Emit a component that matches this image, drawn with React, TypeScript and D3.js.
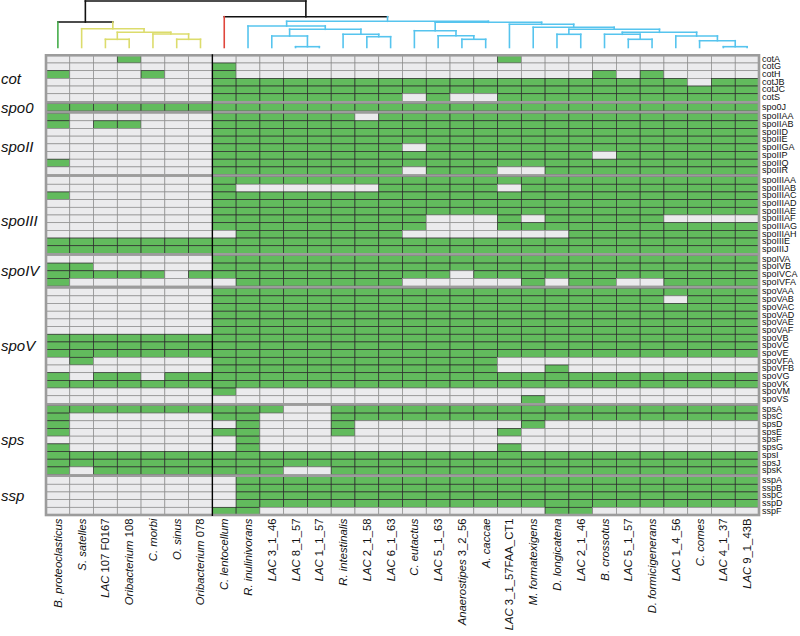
import React from 'react';
import * as d3 from 'd3';

// ---------------- DATA ----------------
const speciesNames = [
  'B. proteoclasticus', 'S. satelles', 'LAC', 'Oribacterium', 'C. morbi', 'O. sinus', 'Oribacterium',
  'C. lentocellum', 'R. inulinivorans', 'LAC', 'LAC', 'LAC', 'R. intestinalis', 'LAC', 'LAC',
  'C. eutactus', 'LAC', 'Anaerostipes', 'A. caccae', 'LAC', 'M. formatexigens', 'D. longicatena',
  'LAC', 'B. crossotus', 'LAC', 'D. formicigenerans', 'LAC', 'C. comes', 'LAC', 'LAC',
];
const speciesStrains = [
  '', '', '107 F0167', '108', '', '', '078',
  '', '', '3_1_46', '8_1_57', '1_1_57', '', '2_1_58', '6_1_63',
  '', '5_1_63', '3_2_56', '', '3_1_57FAA_CT1', '', '',
  '2_1_46', '', '5_1_57', '', '1_4_56', '', '4_1_37', '9_1_43B',
];

const geneGroups = ['cot', 'spo0', 'spoII', 'spoIII', 'spoIV', 'spoV', 'sps', 'ssp'];
const groupSizes = [6, 1, 8, 10, 4, 15, 9, 5];

const genes = [
  'cotA', 'cotG', 'cotH', 'cotJB', 'cotJC', 'cotS',
  'spo0J',
  'spoIIAA', 'spoIIAB', 'spoIID', 'spoIIE', 'spoIIGA', 'spoIIP', 'spoIIQ', 'spoIIR',
  'spoIIIAA', 'spoIIIAB', 'spoIIIAC', 'spoIIIAD', 'spoIIIAE', 'spoIIIAF', 'spoIIIAG', 'spoIIIAH', 'spoIIIE', 'spoIIIJ',
  'spoIVA', 'spoIVB', 'spoIVCA', 'spoIVFA',
  'spoVAA', 'spoVAB', 'spoVAC', 'spoVAD', 'spoVAE', 'spoVAF', 'spoVB', 'spoVC', 'spoVE', 'spoVFA', 'spoVFB', 'spoVG', 'spoVK', 'spoVM', 'spoVS',
  'spsA', 'spsC', 'spsD', 'spsE', 'spsF', 'spsG', 'spsI', 'spsJ', 'spsK',
  'sspA', 'sspB', 'sspC', 'sspD', 'sspF',
];

// presence (1) / absence (0) per gene, one character per species column
const presence = [
  '0001000' + '00000000' + '000010000000000', // cotA
  '0000000' + '10000000' + '000000000000000', // cotG
  '1000100' + '10000000' + '000000001010000', // cotH
  '0000000' + '11111111' + '111111111111011', // cotJB
  '0000000' + '11111111' + '111111111111111', // cotJC
  '0000000' + '11111111' + '010011111111111', // cotS
  '1111111' + '11111111' + '111111111111111', // spo0J
  '1000000' + '11111101' + '111111111111111', // spoIIAA
  '1011000' + '11111111' + '111111111111111', // spoIIAB
  '0000000' + '11111111' + '111111111111111', // spoIID
  '0000000' + '11111111' + '111111111111111', // spoIIE
  '0000000' + '11111111' + '011111111111111', // spoIIGA
  '0000000' + '11111111' + '111111110111111', // spoIIP
  '1000000' + '11111111' + '111111111111111', // spoIIQ
  '0000000' + '11111111' + '011100111111111', // spoIIR
  '0000000' + '11111111' + '111111111111111', // spoIIIAA
  '0000000' + '10000001' + '111101111111111', // spoIIIAB
  '1000000' + '11111111' + '111111111111111', // spoIIIAC
  '0000000' + '11111111' + '111111111111111', // spoIIIAD
  '0000000' + '11111111' + '111111111111111', // spoIIIAE
  '0000000' + '11111111' + '100010111110000', // spoIIIAF
  '0000000' + '11111111' + '100011111111111', // spoIIIAG
  '0000000' + '01111111' + '000000011111111', // spoIIIAH
  '1111111' + '11111111' + '111111111111111', // spoIIIE
  '1111111' + '11111111' + '111111111111111', // spoIIIJ
  '0000000' + '11111111' + '111111111111111', // spoIVA
  '1100000' + '11111111' + '111111111111111', // spoIVB
  '1111101' + '11111111' + '110111111111111', // spoIVCA
  '1000000' + '01111111' + '000001011001111', // spoIVFA
  '0000000' + '11111111' + '111111111111111', // spoVAA
  '0000000' + '11111111' + '111111111110111', // spoVAB
  '0000000' + '11111111' + '111111111111111', // spoVAC
  '0000000' + '11111111' + '111111111111111', // spoVAD
  '0000000' + '11111111' + '111111111111111', // spoVAE
  '0000000' + '11111111' + '111111111111111', // spoVAF
  '1111111' + '11111111' + '111111111111111', // spoVB
  '1111111' + '11111111' + '111111111111111', // spoVC
  '1111111' + '11111111' + '111111111111111', // spoVE
  '0100000' + '11111111' + '111100000000000', // spoVFA
  '0000000' + '11111111' + '111100100000000', // spoVFB
  '1011011' + '11111111' + '111111111111111', // spoVG
  '1111111' + '11111111' + '111111111111111', // spoVK
  '0000000' + '10000000' + '000000000000000', // spoVM
  '0000000' + '00000000' + '000001000000000', // spoVS
  '1111111' + '11100111' + '111111111111111', // spsA
  '1000000' + '11000111' + '111111111111111', // spsC
  '1000000' + '01000100' + '000001000000000', // spsD
  '1000000' + '11000100' + '000010000000000', // spsE
  '0000000' + '01000000' + '000000000000000', // spsF
  '1000000' + '01000000' + '000010000000000', // spsG
  '1111111' + '11111111' + '111111111111111', // spsI
  '1111111' + '11111111' + '111111111111111', // spsJ
  '1011111' + '11100111' + '111111111111111', // spsK
  '0000000' + '01111111' + '111111111111111', // sspA
  '0000000' + '01111111' + '111111111111111', // sspB
  '0000000' + '01111111' + '111111111111111', // sspC
  '0000000' + '01111111' + '111111111111111', // sspD
  '0000000' + '11000000' + '000000110000000', // sspF
];

type DNode = { h?: number; leaf?: number; color?: string; children?: DNode[] };
// species clustering tree (linkage heights)
const dendrogram: DNode = {
  h: 46.5, color: 'black', children: [
    { h: 25.5, color: 'black', children: [
      { leaf: 0, color: 'green' },
      { h: 18.8, color: 'yellow', children: [
        { leaf: 1 },
        { h: 15.2, children: [
          { h: 8.2, children: [{ leaf: 2 }, { leaf: 3 }] },
          { h: 13.5, children: [{ leaf: 4 }, { h: 8.2, children: [{ leaf: 5 }, { leaf: 6 }] }] },
        ] },
      ] },
    ] },
    { h: 30.8, color: 'black', children: [
      { leaf: 7, color: 'red' },
      { h: 26.2, color: 'cyan', children: [
        { h: 21.5, children: [
          { leaf: 8 },
          { h: 18.2, children: [
            { h: 11.5, children: [{ leaf: 9 }, { h: 0.8, children: [{ leaf: 10 }, { leaf: 11 }] }] },
            { h: 13.2, children: [{ leaf: 12 }, { h: 10.8, children: [{ leaf: 13 }, { leaf: 14 }] }] },
          ] },
        ] },
        { h: 25.2, children: [
          { h: 16.8, children: [{ leaf: 15 }, { h: 11.8, children: [{ leaf: 16 }, { h: 8.2, children: [{ leaf: 17 }, { leaf: 18 }] }] }] },
          { h: 23.2, children: [
            { leaf: 19 },
            { h: 20.2, children: [
              { leaf: 20 },
              { h: 18.2, children: [
                { h: 13.2, children: [{ leaf: 21 }, { leaf: 22 }] },
                { h: 15.2, children: [
                  { h: 13.2, children: [{ leaf: 23 }, { h: 8.2, children: [{ leaf: 24 }, { leaf: 25 }] }] },
                  { h: 11.5, children: [{ leaf: 26 }, { h: 6.8, children: [{ leaf: 27 }, { h: 0.8, children: [{ leaf: 28 }, { leaf: 29 }] }] }] },
                ] },
              ] },
            ] },
          ] },
        ] },
      ] },
    ] },
  ],
};

// ---------------- STYLE / LAYOUT ----------------
const W = 800;
const H = 636;
const gridLeft = 46;
const gridRight = 759;
const gridTop = 55.3;
const gridBottom = 515;
const sepGap = 2;
const FONT = "'Liberation Sans', Arial, sans-serif";
const GREEN = '#62bb5d';
const LIGHT = '#ebebed';
const SEP = '#9c9c9c';
const dendroColors: Record<string, string> = {
  black: '#111111', green: '#45ad4a', yellow: '#dcdc6c', red: '#e0463c', cyan: '#56c4ee',
};
const groupLabelDy: Record<string, number> = { spoII: 2.5, spoIII: 6 };

export default function App() {
  const nCols = speciesNames.length;
  const nRows = genes.length;
  const x = d3.scaleBand<number>().domain(d3.range(nCols)).range([gridLeft, gridRight]).padding(0);
  const colW = x.bandwidth();

  const rowGroup: number[] = [];
  groupSizes.forEach((s, g) => { for (let i = 0; i < s; i++) rowGroup.push(g); });
  const rowH = (gridBottom - gridTop - sepGap * (geneGroups.length - 1)) / nRows;
  const yIdx = d3.scaleLinear().domain([0, nRows]).range([gridTop, gridTop + nRows * rowH]);
  const rowY = (i: number) => yIdx(i) + rowGroup[i] * sepGap;

  const groupStart: number[] = [];
  let acc = 0;
  groupSizes.forEach((s) => { groupStart.push(acc); acc += s; });

  // dendrogram
  const root = d3.hierarchy<DNode>(dendrogram);
  const hY = d3.scaleLinear().domain([0, 46.5]).range([47.5, 1]);
  const xs = new Map<any, number>();
  const cols = new Map<any, string>();
  root.each((n: any) => {
    cols.set(n, n.data.color || (n.parent ? cols.get(n.parent) : 'black'));
  });
  root.eachAfter((n: any) => {
    if (n.data.leaf !== undefined) xs.set(n, (x(n.data.leaf) as number) + colW / 2);
    else xs.set(n, d3.mean(n.children, (c: any) => xs.get(c)) as number);
  });
  const dLines: { x1: number; y1: number; x2: number; y2: number; c: string }[] = [];
  root.each((n: any) => {
    if (!n.children) return;
    const yN = hY(n.data.h);
    const cx = n.children.map((c: any) => xs.get(c));
    dLines.push({ x1: d3.min(cx) as number, x2: d3.max(cx) as number, y1: yN, y2: yN, c: cols.get(n) as string });
    n.children.forEach((c: any) => {
      const yc = hY(c.data.leaf !== undefined ? 0 : c.data.h);
      dLines.push({ x1: xs.get(c) as number, x2: xs.get(c) as number, y1: yN, y2: yc, c: cols.get(c) as string });
    });
  });

  const cells: JSX.Element[] = [];
  presence.forEach((row, i) => {
    for (let j = 0; j < nCols; j++) {
      const on = row[j] === '1';
      cells.push(
        <rect key={`c${i}-${j}`} x={x(j)} y={rowY(i)} width={colW} height={rowH}
          fill={on ? GREEN : LIGHT} stroke={on ? '#2c2c2c' : '#8e8e8e'} strokeWidth={0.7} />
      );
    }
  });

  const splitX = (x(7) as number);

  return (
    <svg width={W} height={H} style={{ position: 'absolute', left: 0, top: 0, background: '#fff' }}
      fontFamily={FONT}>
      {/* dendrogram */}
      <g>
        {dLines.map((l, k) => (
          <line key={k} x1={l.x1} x2={l.x2} y1={l.y1} y2={l.y2}
            stroke={dendroColors[l.c]} strokeWidth={1.6} strokeLinecap="square" />
        ))}
      </g>
      {/* heatmap cells */}
      <g>{cells}</g>
      {/* group separators */}
      {groupStart.slice(1).map((s, k) => (
        <line key={`s${k}`} x1={gridLeft} x2={gridRight} y1={rowY(s) - sepGap / 2} y2={rowY(s) - sepGap / 2}
          stroke={SEP} strokeWidth={2.6} />
      ))}
      {/* outer border */}
      <rect x={gridLeft} y={gridTop} width={gridRight - gridLeft} height={gridBottom - gridTop}
        fill="none" stroke={SEP} strokeWidth={2.6} />
      {/* cluster split line */}
      <line x1={splitX} x2={splitX} y1={gridTop - 1} y2={gridBottom + 1} stroke="#000" strokeWidth={1.4} />
      {/* gene labels right */}
      {genes.map((g, i) => (
        <text key={`g${i}`} x={762} y={rowY(i) + rowH / 2 - 0.5} fontSize={9} dominantBaseline="central" fill="#111">{g}</text>
      ))}
      {/* group labels left */}
      {geneGroups.map((g, k) => {
        const s = groupStart[k];
        const e = s + groupSizes[k] - 1;
        const cy = (rowY(s) + rowY(e) + rowH) / 2 + (groupLabelDy[g] || 0);
        return (
          <text key={`gl${k}`} x={1} y={cy} fontSize={15} fontStyle="italic" dominantBaseline="central" fill="#111">{g}</text>
        );
      })}
      {/* species labels bottom */}
      {speciesNames.map((s, j) => {
        const cx = (x(j) as number) + colW / 2;
        const ty = gridBottom + 3.5;
        return (
          <text key={`sp${j}`} transform={`translate(${cx},${ty}) rotate(-90)`} textAnchor="end"
            dominantBaseline="central" fontSize={11.3} fill="#111">
            <tspan fontStyle="italic">{s}</tspan>
            {speciesStrains[j] ? <tspan>{' ' + speciesStrains[j]}</tspan> : null}
          </text>
        );
      })}
    </svg>
  );
}
